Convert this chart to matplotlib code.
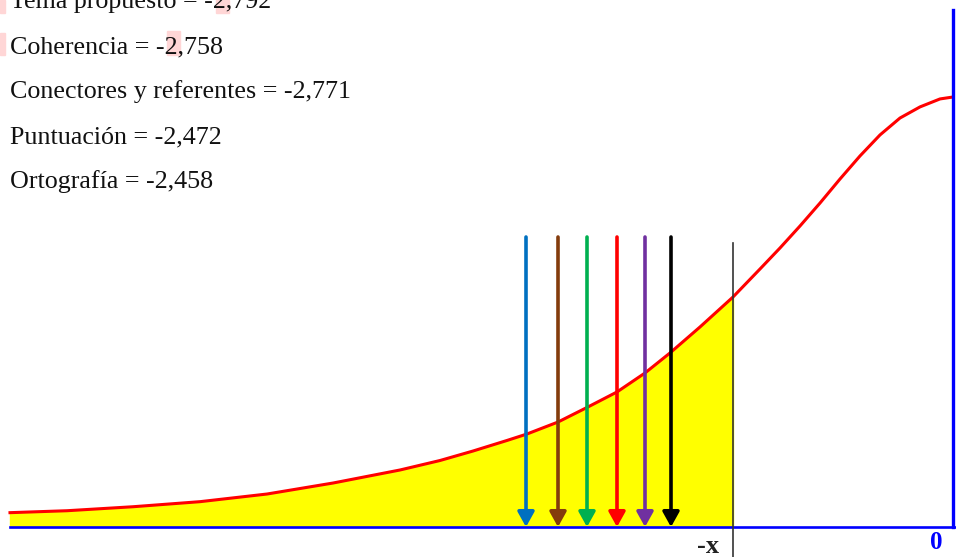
import matplotlib.pyplot as plt
from matplotlib.patches import FancyArrowPatch

# curve (z, density)
curve_z = [-4.715, -4.43, -4.10, -3.765, -3.43, -3.10, -2.765, -2.565, -2.40, -2.23,
           -2.13, -1.975, -1.825, -1.68, -1.54, -1.415, -1.265, -1.10, -0.965, -0.865,
           -0.765, -0.665, -0.565, -0.465, -0.365, -0.265, -0.165, -0.065, 0.0]
curve_y = [0.0133, 0.0151, 0.0188, 0.0235, 0.0306, 0.0408, 0.0529, 0.0617, 0.0705, 0.0803,
           0.0863, 0.0974, 0.1114, 0.1253, 0.1429, 0.1615, 0.1856, 0.2134, 0.2394, 0.2589,
           0.2793, 0.3006, 0.3229, 0.3443, 0.3638, 0.3795, 0.3898, 0.3972, 0.399]

x_crit = -1.10
arrow_z = [-2.135, -1.975, -1.83, -1.68, -1.54, -1.41]
arrow_colors = ["#0070c0", "#843c0c", "#00b050", "#ff0000", "#7030a0", "#000000"]

labels = ["Tema propuesto = -2,792",
          "Coherencia = -2,758",
          "Conectores y referentes = -2,771",
          "Puntuación = -2,472",
          "Ortografía = -2,458"]

k = 0.399 / 430  # density per pixel
plt.rcParams['font.family'] = ['Liberation Serif', 'DejaVu Serif']

fig = plt.figure(figsize=(9.56, 5.57), dpi=100)
ax = fig.add_axes([0, 0, 1, 1])
ax.set_xlim(-953 / 200, 3 / 200)
ax.set_ylim(-30 * k, 527 * k)
ax.axis('off')

# yellow area up to -x
fz = [z for z in curve_z if z <= x_crit]
fy = [y for z, y in zip(curve_z, curve_y) if z <= x_crit]
ax.fill_between(fz, 0, fy, color="#ffff00", zorder=1)

ax.plot(curve_z, curve_y, color="#ff0000", lw=2.2, zorder=3, solid_joinstyle='round')

# axes lines
ax.plot([curve_z[0], 0.015], [0, 0], color="#0000ff", lw=1.9, zorder=4)
ax.plot([0, 0], [0, 517 * k], color="#0000ff", lw=2.4, zorder=4)
ax.plot([x_crit, x_crit], [284 * k, -30 * k], color="#333333", lw=1.2, zorder=5)

for z, c in zip(arrow_z, arrow_colors):
    arr = FancyArrowPatch((z, 290 * k), (z, 0), arrowstyle='-|>,head_length=9,head_width=5',
                          color=c, lw=2.6, mutation_scale=1, zorder=6,
                          shrinkA=0, shrinkB=0)
    ax.add_patch(arr)

ax.text(x_crit - 0.07, -26 * k, "-x", ha='right', va='baseline', fontsize=19,
        fontweight='bold', color='#222222')
ax.text(-0.085, -22 * k, "0", ha='center', va='baseline', fontsize=18,
        fontweight='bold', color='#0000ff')

# spell-check marks
for (px, py, w, h) in [(0, 0, 5, 13), (216, 0, 13, 13), (0, 33, 5, 22), (167, 31, 13, 24)]:
    fig.patches.append(plt.Rectangle((px / 956, 1 - (py + h) / 557), w / 956, h / 557,
                                     transform=fig.transFigure, color="#ffd6d6", zorder=0))

for i, lab in enumerate(labels):
    fig.text(10 / 956, 1 - (8 + 45 * i) / 557, lab, ha='left', va='baseline',
             fontsize=18.7, color='#111111')

fig.savefig("out.png", dpi=100)
